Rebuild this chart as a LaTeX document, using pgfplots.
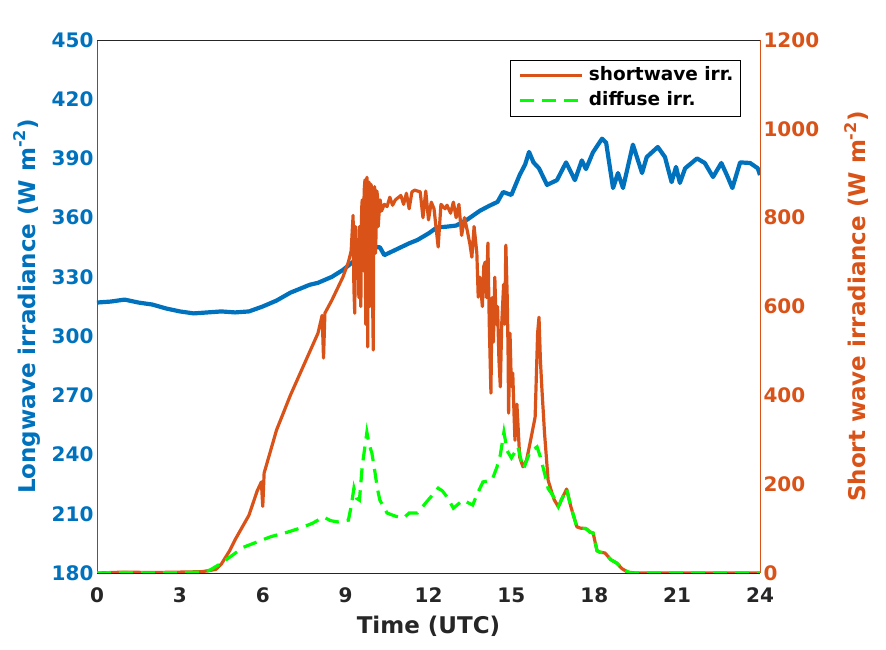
\documentclass[border=0pt]{standalone}
\usepackage{fontspec}
\setmainfont{DejaVu Sans}
\usepackage{pgfplots}
\pgfplotsset{compat=1.18}
\definecolor{mblue}{RGB}{0,114,189}
\definecolor{morange}{RGB}{217,83,25}
\definecolor{mgreen}{RGB}{0,255,0}
\definecolor{mgray}{RGB}{38,38,38}
\pgfplotsset{
  myaxis/.style={
    at={(97pt,77pt)}, anchor=south west, scale only axis,
    width=663pt, height=533pt, xmin=0, xmax=24,
    major tick length=0pt,
    /pgf/number format/assume math mode=true,
    /pgf/number format/1000 sep={},
    tick label style={font=\bfseries\fontsize{20}{24}\selectfont},
  }
}
\begin{document}
\begin{tikzpicture}
\path[use as bounding box] (0,0) rectangle (886pt,650pt);
\begin{axis}[myaxis,
  ymin=180, ymax=450, xtick={0,3,...,24}, ytick={180,210,...,450},
  axis x line*=bottom, axis y line*=left,
  x axis line style={mgray, line width=0.8pt},
  y axis line style={mblue, line width=0.8pt},
  xticklabel style={color=mgray, yshift=-11pt},
  yticklabel style={color=mblue},
  every axis x label/.style={at={([yshift=-53pt]axis description cs:0.5,0)}, anchor=center, color=mgray, font=\bfseries\fontsize{23}{27}\selectfont},
  every axis y label/.style={at={([xshift=-70pt]axis description cs:0,0.5)}, rotate=90, anchor=center, color=mblue, font=\bfseries\fontsize{23}{27}\selectfont},
  xlabel={Time (UTC)},
  ylabel={Longwave irradiance (W m\textsuperscript{-2})},
]
\addplot[mblue, line width=4.2pt, line join=round] coordinates {
(0,317) (0.5,317.5) (1,318.5) (1.5,317) (2,316) (2.5,314) (3,312.5) (3.5,311.5) (4,312) (4.5,312.5)
(5,312) (5.5,312.5) (6,315) (6.5,318) (7,322) (7.35,324) (7.7,326) (8,327) (8.5,330) (8.9,333.5)
(9.3,338) (9.7,342) (10.0,345) (10.24,345) (10.4,341) (10.7,343) (11.0,345) (11.3,347) (11.6,348.7)
(12.0,352) (12.3,355) (12.7,355.5) (13.0,356) (13.4,359) (13.86,363.5) (14.2,366) (14.5,368)
(14.7,373) (15.0,371.5) (15.3,381.6) (15.5,387) (15.64,393.3) (15.8,388) (16.0,385) (16.29,376.6)
(16.65,379) (16.98,388) (17.3,379) (17.55,389) (17.7,384.6) (17.95,393) (18.28,400) (18.43,398)
(18.68,375) (18.86,382.6) (19.04,375) (19.4,397) (19.73,382.6) (19.9,390.7) (20.3,395.8)
(20.56,390.7) (20.8,378) (20.96,385.7) (21.1,377.6) (21.29,385) (21.72,390) (22.0,387.7)
(22.3,380.6) (22.6,387.7) (22.8,381.6) (23.0,375) (23.28,388) (23.64,387.7) (23.92,385) (24,381.6)
};
\end{axis}
\begin{axis}[myaxis,
  ymin=0, ymax=1200, ytick={0,200,...,1200},
  axis x line*=top, axis y line*=right,
  xtick=\empty,
  x axis line style={mgray, line width=0.8pt},
  y axis line style={morange, line width=0.8pt},
  yticklabel style={color=morange},
  every axis y label/.style={at={([xshift=97pt]axis description cs:1,0.5)}, rotate=90, anchor=center, color=morange, font=\bfseries\fontsize{23}{27}\selectfont},
  ylabel={Short wave irradiance (W m\textsuperscript{-2})},
  legend style={at={(rel axis cs:0.971,0.9625)}, anchor=north east, draw=black, line width=0.8pt,
    fill=white, font=\bfseries\fontsize{18.5}{22}\selectfont, legend cell align=left,
    inner xsep=5pt, inner ysep=4pt, row sep=2pt,
    nodes={text height=14pt, text depth=5pt}},
  legend image code/.code={\path (-3pt,0pt) (65pt,0pt);\draw[#1, line width=3pt] (0pt,0pt) -- (62pt,0pt);},
]
\addplot[morange, line width=3.2pt, line join=round] coordinates {
(0,0) (1,2) (2,1) (3,2) (3.8,3) (4.0,5) (4.3,8) (4.5,20) (4.8,50) (5.0,75) (5.5,130) (5.8,185)
(5.95,205) (6.0,150) (6.05,225) (6.5,322) (7.0,400) (7.5,470) (8.0,540) (8.15,580) (8.2,484)
(8.25,585) (8.5,614) (8.9,666) (9.1,700) (9.2,725) (9.27,805) (9.3,640) (9.33,585) (9.36,780)
(9.4,690) (9.45,735) (9.48,620) (9.5,780) (9.53,700) (9.55,600) (9.58,820) (9.6,840) (9.62,700)
(9.65,680) (9.67,860) (9.7,885) (9.72,640) (9.73,560) (9.75,870) (9.77,891) (9.79,700) (9.8,509)
(9.82,850) (9.85,880) (9.87,600) (9.9,700) (9.92,875) (9.95,860) (9.97,650) (10.0,502) (10.02,840)
(10.05,870) (10.08,720) (10.1,760) (10.13,860) (10.15,850) (10.18,780) (10.2,800) (10.25,840) (10.3,815)
(10.4,830) (10.5,825) (10.6,846) (10.7,828) (10.8,840) (11.0,850) (11.1,830) (11.2,855) (11.3,820)
(11.4,858) (11.5,862) (11.7,858) (11.8,800) (11.9,860) (12.0,795) (12.1,835) (12.2,820) (12.35,734)
(12.45,830) (12.6,820) (12.67,828) (12.8,810) (12.9,835) (13.0,800) (13.1,830) (13.2,760) (13.3,800)
(13.4,772) (13.5,740) (13.57,711) (13.65,780) (13.75,720) (13.8,621) (13.86,666) (13.95,600)
(14.0,690) (14.05,700) (14.1,620) (14.15,743) (14.2,560) (14.26,405) (14.3,620) (14.35,520) (14.4,666)
(14.45,560) (14.5,600) (14.55,480) (14.6,419) (14.65,560) (14.72,650) (14.76,560) (14.8,738)
(14.85,620) (14.88,500) (14.9,360) (14.95,540) (15.0,420) (15.05,450) (15.1,350)
(15.13,299) (15.2,380) (15.3,261) (15.42,239) (15.55,254) (15.7,300) (15.86,351) (15.95,540)
(16.0,576) (16.05,480) (16.1,420) (16.2,315) (16.33,209) (16.47,180) (16.55,165) (16.7,149)
(16.85,170) (17.0,189) (17.15,150) (17.37,104) (17.5,101) (17.7,100) (17.85,92) (17.96,90)
(18.1,50) (18.2,47) (18.39,45) (18.6,30) (18.82,22) (19.0,10) (19.2,2) (19.5,0) (24,0)
};
\addlegendentry{shortwave irr.}
\addplot[mgreen, line width=3.2pt, dash pattern=on 14pt off 8pt] coordinates {
(0,0) (1,1) (2,0) (3,1) (3.9,2) (4.1,7) (4.5,22) (4.9,40) (5.3,58) (5.8,70) (6.3,82) (6.9,92)
(7.4,102) (7.8,112) (8.2,126) (8.45,118) (8.7,115) (9.1,119) (9.2,150) (9.3,191) (9.4,168)
(9.5,164) (9.6,240) (9.77,317) (9.85,290) (9.95,270) (10.05,232) (10.15,190) (10.24,164)
(10.5,135) (10.8,128) (11.1,124) (11.3,135) (11.6,135) (11.93,160) (12.35,191) (12.5,185)
(12.67,171) (12.9,146) (13.25,164) (13.6,153) (13.75,176) (13.97,205) (14.3,209) (14.48,239)
(14.6,266) (14.73,317) (14.85,275) (15.0,259) (15.24,284) (15.35,254) (15.45,236) (15.67,272)
(15.93,284) (16.05,261) (16.2,225) (16.33,190) (16.5,175) (16.7,149) (16.85,170) (17.0,189)
(17.15,150) (17.37,104) (17.5,101) (17.7,100) (17.85,92) (17.96,90) (18.1,50) (18.2,47)
(18.39,45) (18.6,30) (18.82,22) (19.0,10) (19.3,0) (24,0)
};
\addlegendentry{diffuse irr.}
\end{axis}
\end{tikzpicture}
\end{document}
